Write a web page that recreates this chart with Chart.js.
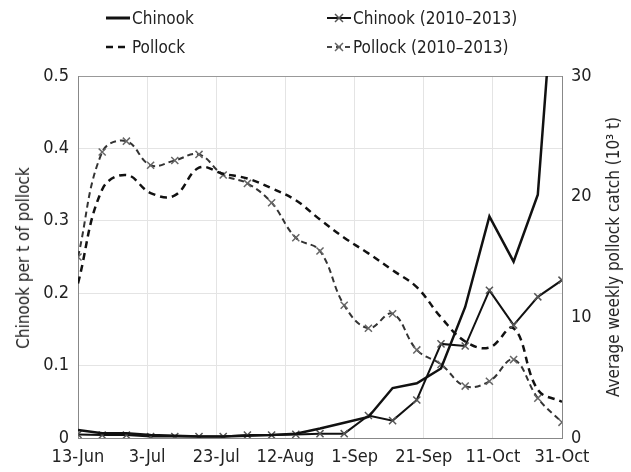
<!DOCTYPE html>
<html>
<head>
<meta charset="utf-8">
<script src="https://cdn.jsdelivr.net/npm/chart.js@4"></script>
<style>
  body { margin: 0; background: #fff; }
  #wrap { position: relative; width: 631px; height: 472px; }
  .leg { position: absolute; font: 17px 'DejaVu Sans Condensed', 'DejaVu Sans', sans-serif; color: #222; white-space: nowrap; display: flex; align-items: center; }
  .leg svg { margin-right: 2px; }
  .tit { position: absolute; font: 17px 'DejaVu Sans Condensed', 'DejaVu Sans', sans-serif; color: #222; white-space: nowrap;
         transform: translate(-50%, -50%) rotate(-90deg); }
</style>
</head>
<body>
<div id="wrap">
  <canvas id="grafico" width="631" height="472"></canvas>
  <div class="leg" style="left:106px; top:8px;">
    <svg width="24" height="12"><line x1="0" y1="6" x2="24" y2="6" stroke="#111" stroke-width="3"/></svg>Chinook
  </div>
  <div class="leg" style="left:106px; top:37px;">
    <svg width="24" height="12"><line x1="0" y1="6" x2="24" y2="6" stroke="#111" stroke-width="2.5" stroke-dasharray="7,5"/></svg>Pollock
  </div>
  <div class="leg" style="left:327px; top:8px;">
    <svg width="24" height="12"><line x1="0" y1="6" x2="24" y2="6" stroke="#111" stroke-width="2"/><path d="M8 2 L16 10 M16 2 L8 10" stroke="#555" stroke-width="1.5"/></svg>Chinook (2010–2013)
  </div>
  <div class="leg" style="left:327px; top:37px;">
    <svg width="24" height="12"><line x1="0" y1="6" x2="24" y2="6" stroke="#444" stroke-width="2" stroke-dasharray="5,4"/><path d="M8 2 L16 10 M16 2 L8 10" stroke="#666" stroke-width="1.5"/></svg>Pollock (2010–2013)
  </div>
  <div class="tit" style="left:23px; top:258px;">Chinook per t of pollock</div>
  <div class="tit" style="left:613px; top:257px;">Average weekly pollock catch (10³ t)</div>
</div>
<script>
// dias desde 13-Jun (semanal)
const semanas = [0, 7, 14, 21, 28, 35, 42, 49, 56, 63, 70, 77, 84, 91, 98, 105, 112, 119, 126, 133, 140];
const rotulosX = ["13-Jun", "3-Jul", "23-Jul", "12-Aug", "1-Sep", "21-Sep", "11-Oct", "31-Oct"];

// Chinook por t de pollock (eixo esquerdo)
const chinook = [0.011, 0.0065, 0.0065, 0.004, 0.003, 0.002, 0.002, 0.003, 0.004, 0.006, 0.013, 0.021, 0.029, 0.069, 0.0755, 0.096, 0.181, 0.306, 0.2435, 0.336, 0.78];
const chinook1013 = [0.005, 0.004, 0.004, 0.002, 0.002, 0.002, 0.002, 0.004, 0.004, 0.005, 0.006, 0.006, 0.031, 0.024, 0.0525, 0.13, 0.127, 0.204, 0.156, 0.195, 0.218];

// captura semanal de pollock, 10^3 t (eixo direito)
const pollock = [12.8, 20.6, 21.8, 20.3, 20.1, 22.4, 21.9, 21.5, 20.7, 19.7, 18.1, 16.6, 15.3, 13.9, 12.5, 10.0, 8.0, 7.5, 9.1, 4.0, 3.0];
const pollock1013 = [15.0, 23.7, 24.6, 22.6, 23.0, 23.5, 21.8, 21.1, 19.5, 16.6, 15.5, 11.0, 9.1, 10.3, 7.3, 6.1, 4.3, 4.7, 6.5, 3.3, 1.3];

const fonte = "'DejaVu Sans Condensed', 'DejaVu Sans', sans-serif";
const pontos = arr => semanas.map((d, i) => ({ x: d, y: arr[i] }));

new Chart(document.getElementById("grafico"), {
  type: "line",
  data: {
    datasets: [
      { label: "Chinook", data: pontos(chinook), yAxisID: "y", borderColor: "#111", borderWidth: 2.5, pointRadius: 0, tension: 0 },
      { label: "Chinook (2010–2013)", data: pontos(chinook1013), yAxisID: "y", borderColor: "#111", borderWidth: 2,
        pointStyle: "crossRot", pointRadius: 5, pointBorderColor: "#555", pointBorderWidth: 1.5, tension: 0 },
      { label: "Pollock", data: pontos(pollock), yAxisID: "y1", borderColor: "#111", borderWidth: 2.5, borderDash: [7, 5], pointRadius: 0, tension: 0.4 },
      { label: "Pollock (2010–2013)", data: pontos(pollock1013), yAxisID: "y1", borderColor: "#333", borderWidth: 2, borderDash: [6, 4],
        pointStyle: "crossRot", pointRadius: 5, pointBorderColor: "#666", pointBorderWidth: 1.5, tension: 0.4 }
    ]
  },
  options: {
    responsive: false,
    animation: false,
    layout: { padding: { top: 76 } },
    plugins: { legend: { display: false }, tooltip: { enabled: false } },
    scales: {
      x: {
        type: "linear", min: 0, max: 140,
        afterFit: s => { s.height = 34; },
        afterBuildTicks: s => { s.ticks = rotulosX.map((t, i) => ({ value: i * 20 })); },
        ticks: { color: "#222", font: { family: fonte, size: 18 }, padding: 9, maxRotation: 0,
                 callback: (v, i) => rotulosX[i] },
        grid: { drawTicks: false, color: c => c.tick && c.tick.value === 140 ? "#999" : "#e4e4e4" },
        border: { color: "#888" }
      },
      y: {
        position: "left", min: 0, max: 0.5,
        afterFit: s => { s.width = 78; },
        ticks: { stepSize: 0.1, color: "#222", font: { family: fonte, size: 18 }, padding: 9 },
        grid: { drawTicks: false, color: c => c.tick && c.tick.value === 0.5 ? "#999" : "#e4e4e4" },
        border: { color: "#888" }
      },
      y1: {
        position: "right", min: 0, max: 30,
        afterFit: s => { s.width = 69; },
        ticks: { stepSize: 10, color: "#222", font: { family: fonte, size: 18 }, padding: 9 },
        grid: { drawOnChartArea: false, drawTicks: false },
        border: { color: "#888" }
      }
    }
  }
});
</script>
</body>
</html>
